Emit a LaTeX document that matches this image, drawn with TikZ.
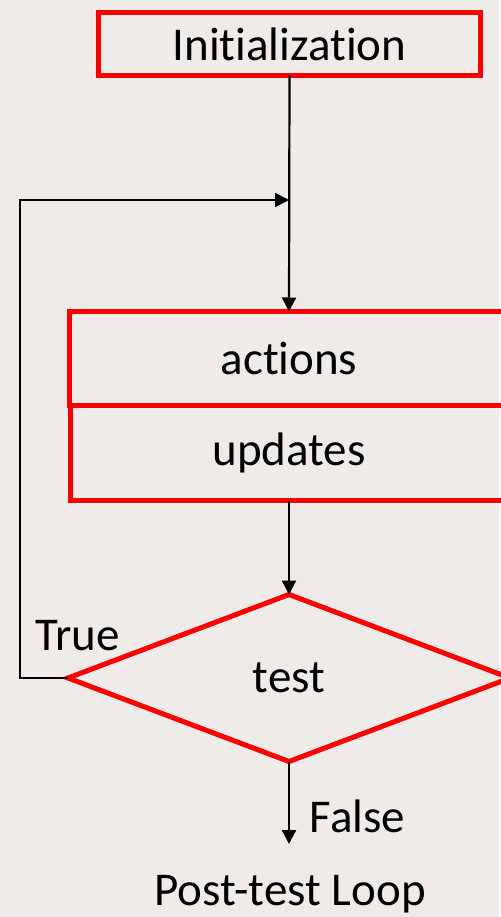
\documentclass[tikz,border=0pt]{standalone}
\usepackage{fontspec}
\setmainfont{Carlito}[Ligatures={NoCommon,NoRequired,NoContextual}]
\usetikzlibrary{shapes.geometric,arrows.meta}
\definecolor{bg}{RGB}{238,235,233}
\definecolor{boxred}{RGB}{255,0,0}
\begin{document}
\begin{tikzpicture}[x=1pt,y=-1pt,
  redbox/.style={draw=boxred,line width=5pt,rectangle,inner sep=0pt,outer sep=0pt,font=\fontsize{47}{56}\selectfont},
  reddiamond/.style={draw=boxred,line width=5pt,diamond,inner sep=0pt,outer sep=0pt,font=\fontsize{47}{56}\selectfont},
  conn/.style={draw=black,line width=2.2pt},
  arr/.style={conn,-{Triangle[length=14pt,width=14pt]}},
  lbl/.style={inner sep=0pt,font=\fontsize{47}{56}\selectfont}]
\fill[bg] (0,0) rectangle (500,917);
\useasboundingbox (0,0) rectangle (500,917);
\node[redbox,minimum width=382pt,minimum height=63pt] (init) at (289.5,44) {Initialization};
\node[redbox,minimum width=439pt,minimum height=94pt] (actions) at (289,358.5) {actions};
\node[redbox,minimum width=437pt,minimum height=95pt] (updates) at (289,453) {updates};
\node[reddiamond,minimum width=442pt,minimum height=167pt] (test) at (289,678) {test};
\coordinate (join) at (289,200);
\coordinate (exit) at (289,844);
\coordinate (c1) at (20,678);
\coordinate (c2) at (20,200);
\draw[arr] (init.south) -- (actions.north);
\draw[arr] (test.west) -- (c1) -- (c2) -- (join);
\draw[arr] (updates.south) -- (test.north);
\draw[arr] (test.south) -- (exit);
\node[lbl,anchor=base] (true) at (77.5,650) {True};
\node[lbl,anchor=base] (false) at (357.5,832) {False};
\node[lbl,anchor=base] (title) at (290,905) {Post-test Loop};
\end{tikzpicture}
\end{document}
